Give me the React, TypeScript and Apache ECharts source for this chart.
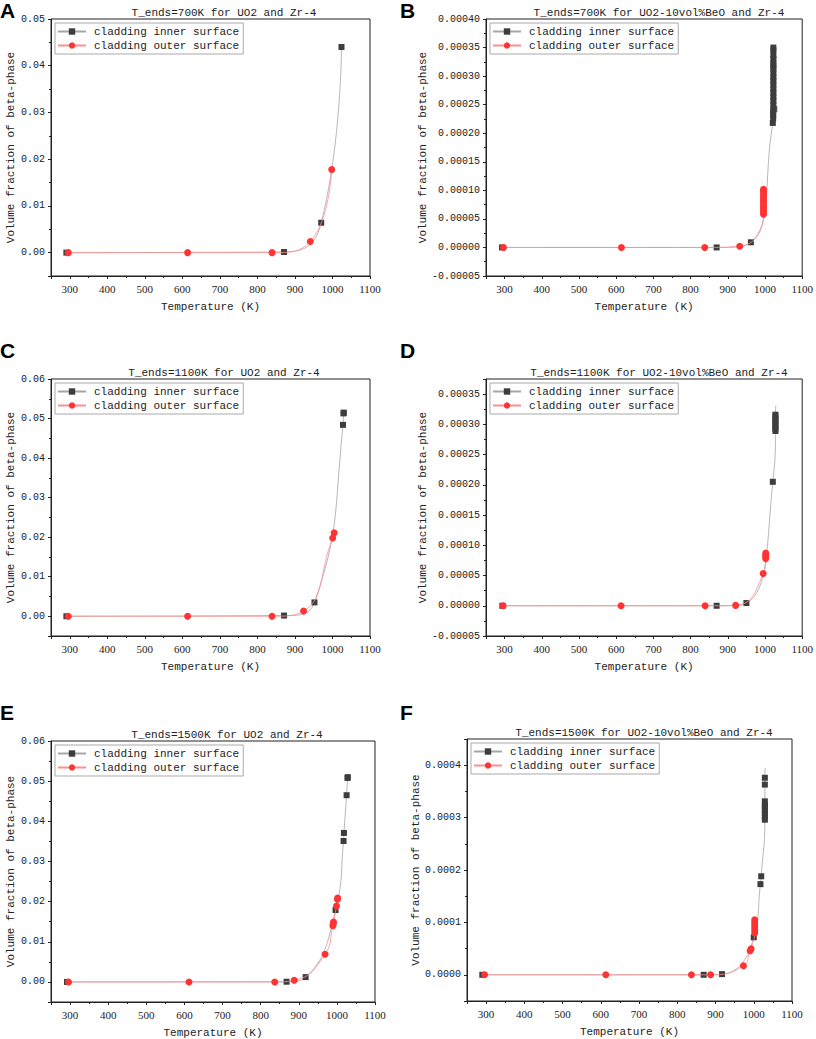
import React, { useEffect, useRef } from "react";
import * as echarts from "echarts";

// ---------- data (Temperature K, volume fraction) ----------
const innerA = [[291, 0], [871, 0.00014], [970, 0.0064], [1024, 0.044]];
const outerA = [[296, 0], [614, 0], [839, 0], [941, 0.0024], [998, 0.0178]];

const innerB = [
  [293, 0], [870, 0], [962, 0.000009],
  [1021, 0.000218], [1022, 0.000226], [1022, 0.000232], [1022, 0.000238], [1022.5, 0.000243],
  [1022.5, 0.00025], [1022.5, 0.000257], [1022.5, 0.000264], [1022.5, 0.000271], [1022.5, 0.000278],
  [1022.5, 0.000285], [1022.5, 0.000292], [1022.5, 0.000298], [1022.5, 0.000305], [1022.5, 0.000312],
  [1022.5, 0.000318], [1022.5, 0.000322], [1022.5, 0.00033], [1022.5, 0.000336], [1022.5, 0.000345],
  [1022.5, 0.00035],
];
const extraB = [[1025, 0.000242]];
const outerB = [
  [297, 0], [614, 0], [838, 0], [932, 0.000002],
  [996, 0.000058], [996, 0.000062], [996, 0.000066], [996, 0.00007], [996, 0.000074], [996, 0.000078],
  [996, 0.000082], [996, 0.000086], [996, 0.00009], [996, 0.000094], [996, 0.000098], [996, 0.000102],
];

const innerC = [[291, 0], [871, 0.00017], [952, 0.0035], [1028, 0.0484], [1029.5, 0.0513], [1030, 0.0515]];
const outerC = [[296, 0], [614, 0], [839, 0], [923, 0.0013], [1000.5, 0.0198], [1004.5, 0.0211]];

const innerD = [
  [294, 0], [870, 0], [950, 0.0000045], [1021, 0.000205],
  [1028, 0.000289], [1028, 0.000293], [1028, 0.000297], [1028, 0.000301], [1028, 0.000305],
  [1028, 0.000309], [1028, 0.000313], [1028, 0.000316],
];
const fitEndD = [1029, 0.000331];
const outerD = [
  [296, 0], [613, 0], [839, 0], [921, 0.0000006], [995, 0.0000534],
  [1002, 0.000078], [1002, 0.000081], [1002, 0.000084], [1002, 0.000087],
];

const innerE = [
  [292, 0], [868, 0.00005], [918, 0.0012], [996.5, 0.0179], [1017.5, 0.0351],
  [1018.5, 0.0371], [1025.5, 0.0465], [1028, 0.0508], [1028.5, 0.051],
];
const outerE = [
  [296, 0], [612, 0], [837, 0], [888, 0.0004], [969, 0.0069], [989.5, 0.014],
  [990.5, 0.0145], [991.2, 0.0149], [999, 0.0189], [1001.5, 0.0206], [1002, 0.0209],
];

const innerF = [
  [290, 0], [869, 0], [917, 0.0000013], [1000, 0.0000715], [1017.5, 0.000173], [1019.5, 0.000188],
  [1029, 0.000296], [1029, 0.000302], [1029, 0.000308], [1029, 0.000314], [1029, 0.00032],
  [1029, 0.000324], [1029, 0.000331], [1029, 0.000363], [1029, 0.000376],
];
const fitEndF = [1030, 0.000395];
const outerF = [
  [296, 0], [613, 0], [837, 0], [887, 0], [973, 0.0000172], [990.5, 0.0000459], [993, 0.0000498],
  [1002.5, 0.00008], [1002.5, 0.000085], [1002.5, 0.00009], [1002.5, 0.000095], [1002.5, 0.0001],
  [1002.5, 0.000105],
];

const innerSets = [innerA, innerB, innerC, innerD, innerE, innerF];
const outerSets = [outerA, outerB, outerC, outerD, outerE, outerF];
const fitEnds: (number[] | null)[] = [null, null, null, fitEndD, null, fitEndF];

const panelTitles = [
  "T_ends=700K for UO2 and Zr-4",
  "T_ends=700K for UO2-10vol%BeO and Zr-4",
  "T_ends=1100K for UO2 and Zr-4",
  "T_ends=1100K for UO2-10vol%BeO and Zr-4",
  "T_ends=1500K for UO2 and Zr-4",
  "T_ends=1500K for UO2-10vol%BeO and Zr-4",
];
const panelLetters = ["A", "B", "C", "D", "E", "F"];
const legendNames = ["cladding inner surface", "cladding outer surface"];
const xAxisName = "Temperature (K)";
const yAxisName = "Volume fraction of beta-phase";

const xMin = 250;
const xMax = 1100;
const yMins = [-0.005, -0.00005, -0.005, -0.00005, -0.005, -0.00005];
const yMaxs = [0.05, 0.0004, 0.06, 0.000375, 0.06, 0.00045];
const yIntervals = [null, 0.00005, null, 0.00005, null, null];
const yDecimals = [2, 5, 2, 5, 2, 4];

// ---------- layout ----------
const layout = [
  { left: 51, top: 19, width: 319, height: 257, lx: 0, ly: 0, tx: 224, ty: 7, yGap: 35 },
  { left: 486, top: 19, width: 319, height: 257, lx: 400, ly: 0, tx: 659, ty: 7, yGap: 58 },
  { left: 51, top: 379, width: 319, height: 257, lx: 0, ly: 340, tx: 224, ty: 367, yGap: 35 },
  { left: 486, top: 379, width: 319, height: 257, lx: 400, ly: 340, tx: 659, ty: 367, yGap: 58 },
  { left: 51, top: 741, width: 324, height: 261, lx: 0, ly: 702, tx: 227, ty: 729, yGap: 35 },
  { left: 467, top: 739, width: 325, height: 262, lx: 400, ly: 702, tx: 644, ty: 727, yGap: 46 },
];

const MONO = "Liberation Mono";
const SERIF = "Liberation Serif";
const AXIS_COLOR = "#222";

function buildOption() {
  const grid: any[] = [];
  const xAxis: any[] = [];
  const yAxis: any[] = [];
  const series: any[] = [];
  const legend: any[] = [];
  const graphic: any[] = [];

  layout.forEach((L, i) => {
    grid.push({
      left: L.left, top: L.top, width: L.width, height: L.height,
      show: true, borderColor: AXIS_COLOR, borderWidth: 1, backgroundColor: "transparent",
    });
    xAxis.push({
      gridIndex: i, type: "value", min: xMin, max: xMax, splitNumber: 8,
      axisLine: { show: true, onZero: false, lineStyle: { color: AXIS_COLOR, width: 1 } },
      axisTick: { show: true, inside: false, length: 3, lineStyle: { color: AXIS_COLOR } },
      minorTick: { show: true, splitNumber: 2, length: 2, lineStyle: { color: AXIS_COLOR } },
      splitLine: { show: false },
      axisLabel: {
        showMinLabel: false, fontFamily: SERIF, fontSize: 11, color: AXIS_COLOR, margin: 7,
        formatter: (v: number) => String(Math.round(v)),
      },
      name: xAxisName, nameLocation: "middle", nameGap: 25,
      nameTextStyle: { fontFamily: MONO, fontSize: 11, color: AXIS_COLOR },
    });
    const dec = yDecimals[i];
    const yA: any = {
      gridIndex: i, type: "value", min: yMins[i], max: yMaxs[i], splitNumber: 5,
      axisLine: { show: true, onZero: false, lineStyle: { color: AXIS_COLOR, width: 1 } },
      axisTick: { show: true, inside: false, length: 3, lineStyle: { color: AXIS_COLOR } },
      minorTick: { show: true, splitNumber: 2, length: 2, lineStyle: { color: AXIS_COLOR } },
      splitLine: { show: false },
      axisLabel: {
        showMinLabel: yIntervals[i] !== null,
        showMaxLabel: !(i === 3 || i === 5),
        fontFamily: MONO, fontSize: 10, color: AXIS_COLOR, margin: 6,
        formatter: (v: number) => (Math.abs(v) < 1e-12 ? 0 : v).toFixed(dec),
      },
      name: yAxisName, nameLocation: "middle", nameGap: L.yGap,
      nameTextStyle: { fontFamily: MONO, fontSize: 11, color: AXIS_COLOR },
    };
    if (yIntervals[i] !== null) yA.interval = yIntervals[i];
    yAxis.push(yA);

    const innerData: any[] = innerSets[i].slice();
    const fe = fitEnds[i];
    if (fe) innerData.push({ value: fe, symbol: "none" });

    series.push({
      type: "line", name: legendNames[0], xAxisIndex: i, yAxisIndex: i,
      data: innerData, smooth: true, symbol: "rect", symbolSize: 6, showAllSymbol: true,
      itemStyle: { color: "#3d3d3d" }, lineStyle: { color: "#a6a6a6", width: 0.8 }, z: 2,
    });
    if (i === 1) {
      series.push({
        type: "scatter", name: "inner extra", xAxisIndex: i, yAxisIndex: i,
        data: extraB, symbol: "rect", symbolSize: 6, itemStyle: { color: "#3d3d3d" }, z: 2,
      });
    }
    series.push({
      type: "line", name: legendNames[1], xAxisIndex: i, yAxisIndex: i,
      data: outerSets[i], smooth: true, symbol: "circle", symbolSize: 7, showAllSymbol: true,
      itemStyle: { color: "#ff3333" }, lineStyle: { color: "#ff8f8f", width: 0.8 }, z: 3,
    });

    legend.push({
      data: legendNames, orient: "vertical", left: L.left + 4, top: L.top + 4,
      itemWidth: 28, itemHeight: 8, itemGap: 3, padding: [3, 4, 3, 2],
      borderColor: "#aaa", borderWidth: 1, backgroundColor: "#fff",
      textStyle: { fontFamily: MONO, fontSize: 11, color: AXIS_COLOR, padding: [0, 0, 0, 3] },
      selectedMode: false,
    });

    graphic.push({
      type: "text", x: L.tx, y: L.ty, z: 10,
      style: { text: panelTitles[i], fontFamily: MONO, fontSize: 11, fill: AXIS_COLOR, textAlign: "center", textVerticalAlign: "top" },
    });
    graphic.push({
      type: "text", x: L.lx, y: L.ly, z: 10,
      style: { text: panelLetters[i], fontFamily: "Liberation Sans", fontWeight: "bold", fontSize: 21, fill: "#000", textAlign: "left", textVerticalAlign: "top" },
    });
  });

  return { animation: false, backgroundColor: "#fff", grid, xAxis, yAxis, series, legend, graphic };
}

export default function App() {
  const ref = useRef<HTMLDivElement>(null);
  useEffect(() => {
    if (!ref.current) return;
    const chart = echarts.init(ref.current, undefined, { renderer: "svg" });
    chart.setOption(buildOption() as any);
    return () => chart.dispose();
  }, []);
  return (
    <div
      ref={ref}
      style={{ position: "absolute", left: 0, top: 0, width: 816, height: 1039, background: "#fff" }}
    />
  );
}
